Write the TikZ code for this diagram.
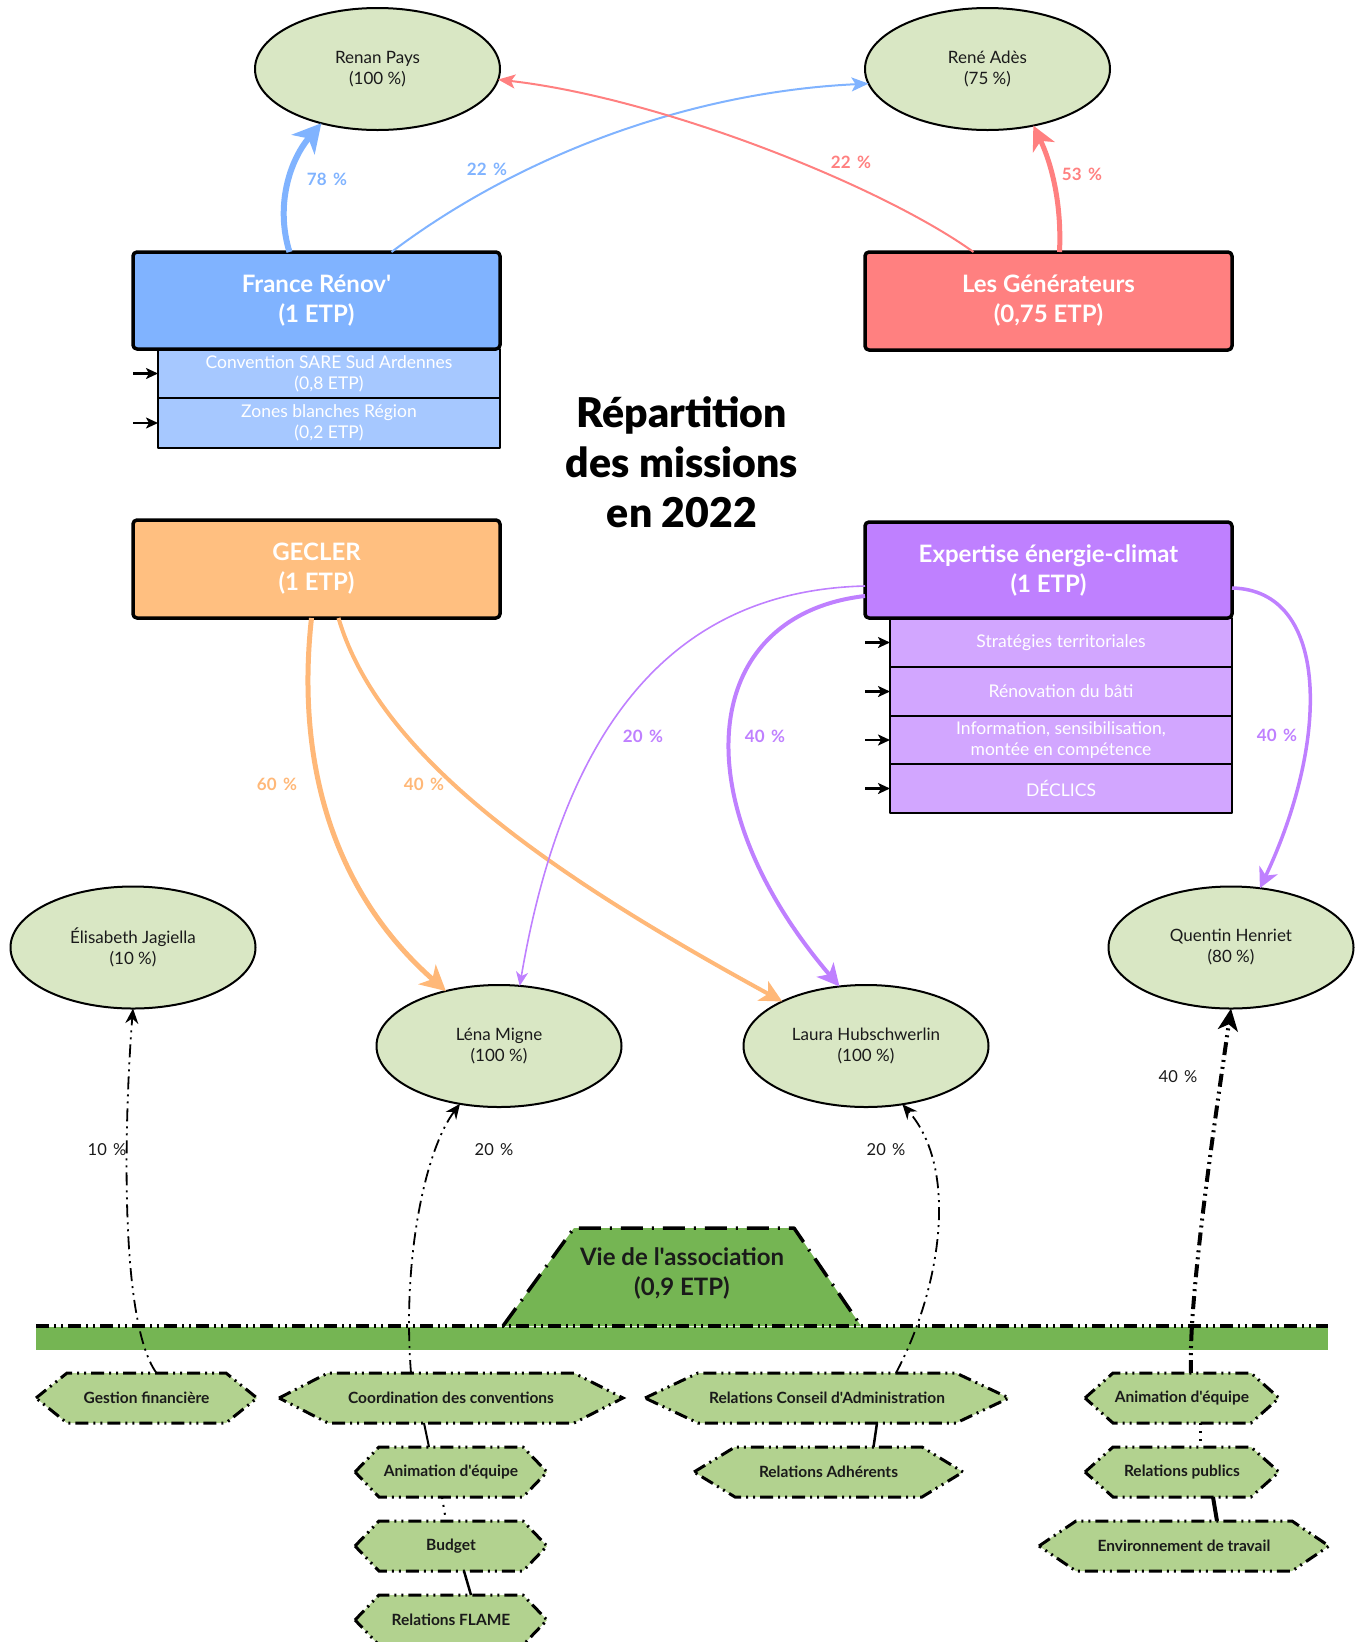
\documentclass[tikz,border=0pt]{standalone}
\usepackage{fontspec}
\setmainfont{Lato}[Ligatures=TeXOff]
\newfontfamily\titlefont{Lato Black}[Ligatures=TeXOff]
\usetikzlibrary{arrows.meta,shapes.geometric,backgrounds,calc}
\definecolor{ellfill}{HTML}{D9E7C4}
\definecolor{hexfill}{HTML}{B2D28F}
\definecolor{bargreen}{HTML}{75B553}
\definecolor{frblue}{HTML}{80B3FF}
\definecolor{frsub}{HTML}{A6C8FF}
\definecolor{lgred}{HTML}{FF8080}
\definecolor{gcorange}{HTML}{FFBF80}
\definecolor{orline}{HTML}{FFB878}
\definecolor{expurple}{HTML}{BF80FF}
\definecolor{exsub}{HTML}{D2A6FF}
\definecolor{txt}{HTML}{1A1A1A}
\newcommand\mkhex[6]{%
  \node[hexnode, minimum width=#4] (#1) at (#2,#3) {#6};
  \begin{scope}[on background layer]
    \draw[hexborder] (#1.west) -- ([xshift=#5pt]#1.north west) -- ([xshift=-#5pt]#1.north east) -- (#1.east) -- ([xshift=-#5pt]#1.south east) -- ([xshift=#5pt]#1.south west) -- cycle;
  \end{scope}}
\newcommand\pc[1]{#1\hspace{0.38em}\%}
\begin{document}
\begin{tikzpicture}[x=1pt,y=-1pt,line join=round,
  ell/.style={ellipse, draw, line width=2pt, fill=ellfill, minimum width=245pt, minimum height=122pt, inner sep=0pt, outer sep=0pt, text=txt, font=\fontsize{17}{21}\selectfont, align=center},
  bigbox/.style={draw, line width=3.5pt, rounded corners=4pt, minimum width=367pt, minimum height=97pt, inner sep=0pt, outer sep=0pt, text=white, font=\bfseries\fontsize{24}{30}\selectfont, align=center},
  subbox/.style={draw, line width=2.5pt, minimum width=342pt, minimum height=49pt, inner sep=0pt, outer sep=0pt, text=white, font=\fontsize{17.5}{21}\selectfont, align=center},
  hexnode/.style={minimum height=50pt, inner sep=0pt, outer sep=0pt, text=txt, font=\bfseries\fontsize{15.5}{19}\selectfont},
  ddot/.style={dash pattern=on 13pt off 5pt on 2pt off 5pt on 2pt off 5pt},
  dashdot/.style={dash pattern=on 22pt off 9pt on 2pt off 9pt},
  hexborder/.style={ddot, line width=3pt, fill=hexfill},
  smallarrow/.style={line width=2.2pt, -{Stealth[length=12pt,width=11pt,inset=3pt]}},
  plbl/.style={font=\bfseries\fontsize{17}{19}\selectfont, inner sep=1pt},
  blbl/.style={font=\fontsize{16.5}{19}\selectfont, text=txt, inner sep=1pt},
  dconn/.style={ddot, line width=1.8pt, -{Stealth[length=15pt,width=13pt,inset=5pt]}},
  thinsolid/.style={line width=2pt},
  dotline/.style={line width=2pt, dash pattern=on 2pt off 6pt},
]
\useasboundingbox (0,0) rectangle (1363,1642);

% ---------- people ----------
\node[ell] (rp) at (377.5,69) {Renan Pays\\(100 \%)};
\node[ell] (ra) at (987.5,69) {René Adès\\(75 \%)};
\node[ell] (ej) at (133,947.5) {Élisabeth Jagiella\\(10 \%)};
\node[ell] (lm) at (499,1046) {Léna Migne\\(100 \%)};
\node[ell] (lh) at (866,1046) {Laura Hubschwerlin\\(100 \%)};
\node[ell] (qh) at (1231,947.5) {Quentin Henriet\\(80 \%)};

% ---------- France Rénov' ----------
\node[subbox, fill=frsub, anchor=north] (frs1) at (329,349) {Convention SARE Sud Ardennes\\(0,8 ETP)};
\node[subbox, fill=frsub, anchor=north, minimum height=50pt] (frs2) at (frs1.south) {Zones blanches Région\\(0,2 ETP)};
\node[bigbox, fill=frblue] (fr) at (316.5,300.5) {France Rénov'\\(1 ETP)};
\coordinate (fa1) at ($(frs1.west)+(-25,0)$);
\coordinate (fa2) at ($(frs2.west)+(-25,0)$);
\draw[smallarrow] (fa1) -- (frs1.west);
\draw[smallarrow] (fa2) -- (frs2.west);

% ---------- Les Générateurs ----------
\node[bigbox, fill=lgred, minimum height=98pt] (lg) at (1048.5,301) {Les Générateurs\\(0,75 ETP)};

% ---------- title ----------
\node[font=\titlefont\fontsize{41}{50}\selectfont, align=center, text=black] (ttl) at (682,462) {Répartition\\des missions\\en 2022};

% ---------- GECLER ----------
\node[bigbox, fill=gcorange, minimum height=98pt] (gc) at (316.5,569) {GECLER\\(1 ETP)};

% ---------- Expertise ----------
\node[subbox, fill=exsub, anchor=north] (exs1) at (1061,618) {Stratégies territoriales};
\node[subbox, fill=exsub, anchor=north] (exs2) at (exs1.south) {Rénovation du bâti};
\node[subbox, fill=exsub, anchor=north, minimum height=48pt] (exs3) at (exs2.south) {Information, sensibilisation,\\montée en compétence};
\node[subbox, fill=exsub, anchor=north] (exs4) at (exs3.south) {DÉCLICS};
\node[bigbox, fill=expurple, minimum height=96pt] (ex) at (1048.5,570) {Expertise énergie-climat\\(1 ETP)};
\foreach \s in {exs1,exs2,exs3,exs4}{
  \coordinate (a-\s) at ($(\s.west)+(-25,0)$);
  \draw[smallarrow] (a-\s) -- (\s.west);
}

% ---------- top connectors ----------
\draw[frblue, line width=6pt, -{Stealth[length=28pt,width=30pt,inset=8pt]}]
  ([xshift=-27pt]fr.north) .. controls (275,205) and (290,160) .. (rp.224);
\node[plbl, text=frblue] (l78) at (327,179) {\pc{78}};
\draw[frblue, line width=2pt, -{Stealth[length=17pt,width=14pt,inset=4pt]}]
  ([xshift=75pt]fr.north) .. controls (520,155) and (690,92) .. (ra.187);
\node[plbl, text=frblue] (l22b) at (487,169) {\pc{22}};
\draw[lgred, line width=5pt, -{Stealth[length=24pt,width=24pt,inset=7pt]}]
  ([xshift=11pt]lg.north) .. controls (1062,200) and (1050,160) .. (ra.309);
\node[plbl, text=lgred] (l53) at (1082,174) {\pc{53}};
\draw[lgred, line width=2pt, -{Stealth[length=17pt,width=14pt,inset=4pt]}]
  ([xshift=-75pt]lg.north) .. controls (880,185) and (660,98) .. (rp.355);
\node[plbl, text=lgred] (l22r) at (851,162) {\pc{22}};

% ---------- middle connectors ----------
\draw[orline, line width=5pt, -{Stealth[length=25pt,width=26pt,inset=7pt]}]
  ([xshift=-5pt]gc.south) .. controls (298,740) and (320,880) .. (lm.134);
\node[plbl, text=orline] (l60) at (277,784) {\pc{60}};
\draw[orline, line width=4pt, -{Stealth[length=22pt,width=22pt,inset=6pt]}]
  ([xshift=22pt]gc.south) .. controls (380,760) and (560,880) .. (lh.152);
\node[plbl, text=orline] (l40o) at (424,784) {\pc{40}};
\draw[expurple, line width=1.6pt, -{Stealth[length=14pt,width=12pt,inset=4pt]}]
  ([yshift=-16pt]ex.west) .. controls (700,590) and (570,690) .. (lm.71);
\node[plbl, text=expurple] (l20p) at (643,736) {\pc{20}};
\draw[expurple, line width=4pt, -{Stealth[length=22pt,width=22pt,inset=6pt]}]
  ([yshift=-26pt]ex.west) .. controls (700,615) and (680,800) .. (lh.114);
\node[plbl, text=expurple] (l40p) at (765,736) {\pc{40}};
\draw[expurple, line width=3.5pt, -{Stealth[length=20pt,width=20pt,inset=6pt]}]
  ([yshift=-18pt]ex.east) .. controls (1330,590) and (1330,740) .. (qh.64);
\node[plbl, text=expurple] (l40q) at (1277,735) {\pc{40}};

% ---------- association ----------
\fill[bargreen] (36,1327) rectangle (1328,1350);
\draw[dashdot, line width=3.5pt, fill=bargreen] (503,1326) -- (574,1228) -- (794,1228) -- (861,1326);
\draw[ddot, line width=3.5pt] (36,1326) -- (1328,1326);
\node[font=\bfseries\fontsize{24}{30}\selectfont, align=center, text=txt] (vie) at (682,1273) {Vie de l'association\\(0,9 ETP)};

% ---------- hexagons ----------
\mkhex{gest}{146.5}{1398}{221}{31}{Gestion financière}
\mkhex{coord}{451}{1398}{344}{49}{Coordination des conventions}
\mkhex{ca}{827}{1398}{364}{53}{Relations Conseil d'Administration}
\mkhex{anim2}{1182}{1398}{194}{28}{Animation d'équipe}
\mkhex{anim1}{451}{1472}{192}{24}{Animation d'équipe}
\mkhex{adh}{828.5}{1472}{269}{41}{Relations Adhérents}
\mkhex{pub}{1182}{1472}{194}{28}{Relations publics}
\mkhex{budget}{451}{1546}{192}{24}{Budget}
\mkhex{env}{1184}{1546}{290}{37}{Environnement de travail}
\mkhex{flame}{451}{1620}{192}{24}{Relations FLAME}

\draw[thinsolid] ([xshift=-27pt]coord.south) -- ([xshift=-22pt]anim1.north);
\draw[dotline] ([xshift=-9pt]anim1.south) -- ([xshift=-5pt]budget.north);
\draw[thinsolid, line width=2.5pt] ([xshift=13pt]budget.south) -- ([xshift=20pt]flame.north);
\draw[thinsolid, line width=2.5pt] ([xshift=50pt]ca.south) -- ([xshift=45pt]adh.north);
\draw[dotline, line width=3pt] ([xshift=18pt]anim2.south) -- ([xshift=18pt]pub.north);
\draw[line width=4pt] ([xshift=31pt]pub.south) -- ([xshift=33pt]env.north);

% ---------- bottom connectors ----------
\draw[dconn] ([xshift=10pt]gest.north) .. controls (118,1320) and (125,1110) .. (ej.south);
\node[blbl] (l10) at (107,1150) {\pc{10}};
\draw[dconn] ([xshift=-40pt]coord.north) .. controls (402,1260) and (425,1150) .. (lm.236);
\node[blbl] (l20a) at (494,1150) {\pc{20}};
\draw[dconn] ([xshift=69pt]ca.north) .. controls (940,1290) and (960,1170) .. (lh.302);
\node[blbl] (l20b) at (886,1150) {\pc{20}};
\draw[ddot, line width=4pt, -{Stealth[length=22pt,width=20pt,inset=6pt]}]
  ([xshift=9pt]anim2.north) .. controls (1188,1300) and (1215,1120) .. (qh.south);
\node[blbl] (l40b) at (1178,1077) {\pc{40}};
\end{tikzpicture}
\end{document}
